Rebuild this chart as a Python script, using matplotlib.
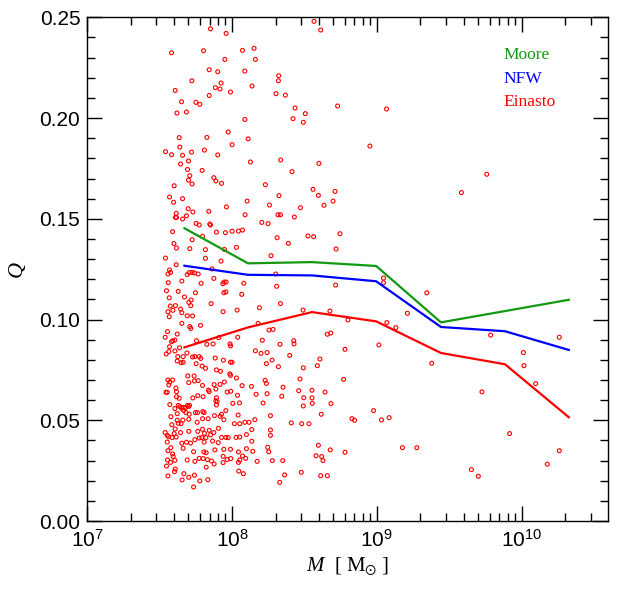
import numpy as np
import matplotlib.pyplot as plt
from matplotlib.ticker import MultipleLocator, FormatStrFormatter

plt.rcParams['font.family'] = ['Liberation Sans', 'DejaVu Sans']
plt.rcParams['mathtext.fontset'] = 'custom'
plt.rcParams['mathtext.rm'] = 'Liberation Sans'
plt.rcParams['mathtext.it'] = 'Liberation Serif:italic'
plt.rcParams['mathtext.fallback'] = 'stix'

# binned medians, log10 of halo mass
bin_logm = [7.671, 8.110, 8.552, 8.995, 9.443, 9.885, 10.326]
moore_q = [0.1453, 0.1279, 0.1285, 0.1266, 0.0986, 0.1042, 0.1098]
nfw_q = [0.1267, 0.1222, 0.1219, 0.1190, 0.0963, 0.0942, 0.0849]
einasto_q = [0.0862, 0.0961, 0.1037, 0.0991, 0.0834, 0.0778, 0.0515]

# individual haloes (log10 M, Q)
halo_logm = [
    7.851, 7.959, 8.566, 8.612, 7.582, 7.803, 8.072, 8.152, 7.950, 8.161,
    7.842, 7.901, 8.088, 7.722, 8.322, 8.320, 7.924, 7.885, 7.917, 7.989,
    8.138, 7.607, 8.304, 8.368, 7.842, 7.651, 7.750, 7.777, 8.435, 7.619,
    7.685, 8.506, 8.729, 8.088, 8.421, 8.492, 7.973, 7.635, 7.826, 8.111,
    8.000, 7.639, 7.540, 7.582, 7.658, 7.720, 7.809, 7.901, 8.952, 8.127,
    8.336, 7.699, 7.644, 8.600, 7.692, 7.793, 8.414, 7.708, 7.699, 7.874,
    7.888, 7.927, 7.724, 7.600, 8.230, 8.559, 8.596, 8.711, 8.324, 7.568,
    7.596, 7.658, 8.104, 8.258, 8.635, 8.697, 8.472, 7.614, 7.697, 7.729,
    7.839, 7.961, 7.609, 7.616, 7.658, 7.685, 8.090, 8.317, 8.334, 8.430,
    8.205, 8.249, 7.752, 7.773, 7.846, 7.851, 7.589, 7.892, 7.954, 8.000,
    8.044, 8.072, 8.524, 8.563, 8.745, 8.311, 7.796, 7.724, 7.598, 7.616,
    7.708, 7.816, 7.947, 8.030, 8.389, 8.718,
    7.540, 7.816, 7.924, 8.269, 7.614, 7.568, 7.557, 7.575, 7.862, 7.704,
    7.724, 7.740, 7.690, 7.766, 8.301, 7.874, 7.653, 7.559, 7.786, 7.945,
    7.959, 7.936, 8.081, 8.308, 8.715, 7.547, 7.628, 7.747, 7.943, 7.957,
    8.067, 7.566, 7.671, 7.717, 7.701, 7.855, 8.334, 8.189, 7.573, 7.609,
    7.715, 7.644, 7.591, 7.557, 7.653, 7.938, 8.035, 8.490, 8.676, 7.690,
    7.566, 7.727, 8.800, 7.653, 7.708, 7.715, 7.782, 8.180, 8.255, 8.283,
    7.554, 7.621, 8.681, 8.658, 7.538, 7.591, 7.605, 7.582, 7.568, 7.637,
    7.754, 7.908, 8.039, 7.986, 7.989, 7.826, 7.869, 8.209, 8.331, 8.426,
    8.428, 9.014, 7.545, 7.563, 7.605, 7.688, 7.625, 7.662, 7.727, 7.743,
    7.773, 7.784, 8.161, 8.200, 8.242, 8.398, 8.780, 7.621, 7.648, 7.662,
    7.752, 7.793, 7.883, 7.940, 7.989, 8.000, 8.276, 8.607, 8.237, 8.589,
    7.816, 7.892, 7.920, 8.320, 8.492, 7.738, 7.694, 7.984, 7.989, 8.030,
    7.557, 7.570, 7.589, 7.563, 7.701, 7.740, 7.766, 7.796, 7.876, 7.917,
    7.947, 8.069, 8.134, 8.228, 8.237, 8.469, 8.770, 7.543, 7.552, 7.612,
    7.616, 7.616, 7.635, 7.729, 7.763, 7.800, 7.837, 7.842, 7.888, 7.892,
    7.966, 7.991, 8.037, 8.166, 8.242, 8.352, 8.343, 8.460, 8.552, 8.642,
    8.495, 8.552, 7.570, 7.605, 7.628, 7.639, 7.651, 7.662, 7.678, 7.692,
    7.699, 7.706, 7.665, 7.681, 7.704, 7.747, 7.761, 7.798, 7.807, 7.621,
    7.888, 7.897, 7.892, 7.878, 7.927, 7.957, 8.005, 8.051, 8.214, 8.492,
    8.554, 8.683, 8.977, 7.577, 7.621, 7.660, 7.628, 7.584, 7.607, 7.648,
    7.701, 7.759, 7.796, 7.835, 7.917, 7.943, 8.042, 8.265, 8.409, 8.481,
    8.531, 8.616, 8.828, 8.846, 8.016, 8.053, 8.088, 8.117, 8.157, 7.538,
    7.552, 7.561, 7.586, 7.614, 7.600, 7.644, 7.701, 7.763, 7.796, 7.809,
    7.842, 7.851, 7.906, 7.874, 7.791, 7.773, 7.819, 7.957, 7.973, 8.028,
    8.053, 8.099, 8.136, 8.265, 8.265, 7.552, 7.557, 7.577, 7.589, 7.593,
    7.653, 7.662, 7.685, 7.713, 7.743, 7.807, 7.865, 7.904, 7.927, 7.734,
    7.805, 7.821, 7.881, 7.943, 7.989, 8.044, 8.099, 8.136, 8.143, 8.246,
    8.253, 8.580, 8.596, 8.619, 8.678, 8.780, 7.554, 7.547, 7.575, 7.605,
    7.607, 7.602, 7.667, 7.690, 7.743, 7.773, 7.800, 7.830, 7.858, 7.876,
    7.821, 7.938, 7.966, 7.991, 8.044, 8.053, 8.094, 8.072, 8.173, 8.278,
    8.350, 8.628, 7.938, 7.557, 7.655, 7.701, 7.740, 7.734, 7.777, 7.832,
    8.046, 8.078, 8.329, 8.363, 8.478, 8.612, 8.658,
    9.067, 9.759, 9.584, 9.046, 9.046, 9.345, 9.211, 9.069, 9.131, 9.786,
    10.012, 10.016, 10.097, 9.379, 10.260, 9.726, 9.032, 9.085, 9.917, 9.177,
    9.276, 10.260, 10.177, 9.653, 9.701,
]
halo_q = [
    0.2443, 0.2420, 0.2480, 0.2437, 0.2324, 0.2334, 0.2336, 0.2346, 0.2291, 0.2291,
    0.2240, 0.2230, 0.2233, 0.2185, 0.2210, 0.2185, 0.2174, 0.2151, 0.2144, 0.2129,
    0.2159, 0.2137, 0.2121, 0.2114, 0.2112, 0.2081, 0.2078, 0.2068, 0.2050, 0.2025,
    0.2030, 0.2022, 0.2060, 0.1993, 0.1997, 0.1979, 0.1931, 0.1903, 0.1904, 0.1897,
    0.1868, 0.1856, 0.1833, 0.1818, 0.1815, 0.1831, 0.1841, 0.1817, 0.1861, 0.1782,
    0.1792, 0.1787, 0.1772, 0.1775, 0.1745, 0.1740, 0.1734, 0.1714, 0.1692, 0.1704,
    0.1688, 0.1676, 0.1673, 0.1664, 0.1669, 0.1646, 0.1616, 0.1636, 0.1615, 0.1608,
    0.1582, 0.1600, 0.1588, 0.1568, 0.1567, 0.1588, 0.1555, 0.1527, 0.1550, 0.1534,
    0.1537, 0.1559, 0.1507, 0.1507, 0.1499, 0.1515, 0.1520, 0.1520, 0.1520, 0.1509,
    0.1482, 0.1476, 0.1477, 0.1469, 0.1474, 0.1469, 0.1436, 0.1434, 0.1431, 0.1438,
    0.1439, 0.1444, 0.1415, 0.1411, 0.1426, 0.1406, 0.1413, 0.1396, 0.1377, 0.1355,
    0.1352, 0.1347, 0.1348, 0.1358, 0.1378, 0.1350,
    0.1305, 0.1304, 0.1290, 0.1317, 0.1272, 0.1246, 0.1226, 0.1234, 0.1251, 0.1233,
    0.1234, 0.1231, 0.1223, 0.1226, 0.1226, 0.1204, 0.1191, 0.1183, 0.1180, 0.1186,
    0.1186, 0.1178, 0.1180, 0.1165, 0.1171, 0.1143, 0.1140, 0.1133, 0.1133, 0.1137,
    0.1125, 0.1108, 0.1112, 0.1097, 0.1085, 0.1079, 0.1079, 0.1059, 0.1067, 0.1069,
    0.1069, 0.1052, 0.1046, 0.1039, 0.1034, 0.1039, 0.1047, 0.1047, 0.1042, 0.1019,
    0.1014, 0.1018, 0.0998, 0.0981, 0.0965, 0.0956, 0.0971, 0.0981, 0.0948, 0.0951,
    0.0940, 0.0928, 0.0933, 0.0927, 0.0912, 0.0895, 0.0898, 0.0890, 0.0865, 0.0860,
    0.0895, 0.0910, 0.0912, 0.0879, 0.0869, 0.0877, 0.0879, 0.0897, 0.0877, 0.0895,
    0.0879, 0.0874, 0.0829, 0.0841, 0.0844, 0.0834, 0.0816, 0.0816, 0.0814, 0.0816,
    0.0816, 0.0807, 0.0845, 0.0832, 0.0836, 0.0822, 0.0852, 0.0794, 0.0786, 0.0788,
    0.0781, 0.0769, 0.0809, 0.0798, 0.0788, 0.0788, 0.0799, 0.0804, 0.0781, 0.0771,
    0.0758, 0.0750, 0.0743, 0.0766, 0.0760, 0.0720, 0.0720, 0.0730, 0.0723, 0.0710,
    0.0700, 0.0690, 0.0700, 0.0675, 0.0687, 0.0695, 0.0697, 0.0673, 0.0677, 0.0678,
    0.0690, 0.0672, 0.0668, 0.0698, 0.0683, 0.0705, 0.0703, 0.0639, 0.0639, 0.0660,
    0.0642, 0.0617, 0.0609, 0.0611, 0.0622, 0.0617, 0.0650, 0.0642, 0.0655, 0.0612,
    0.0640, 0.0644, 0.0624, 0.0629, 0.0632, 0.0664, 0.0619, 0.0647, 0.0649, 0.0640,
    0.0612, 0.0611, 0.0578, 0.0558, 0.0574, 0.0568, 0.0559, 0.0564, 0.0563, 0.0574,
    0.0568, 0.0574, 0.0549, 0.0539, 0.0530, 0.0538, 0.0538, 0.0543, 0.0538, 0.0533,
    0.0597, 0.0592, 0.0576, 0.0523, 0.0530, 0.0548, 0.0584, 0.0586, 0.0586, 0.0571,
    0.0584, 0.0583, 0.0548, 0.0518, 0.0500, 0.0501, 0.0485, 0.0478, 0.0457, 0.0483,
    0.0505, 0.0490, 0.0508, 0.0508, 0.0520, 0.0503, 0.0526, 0.0523, 0.0487, 0.0483,
    0.0483, 0.0530, 0.0508, 0.0500, 0.0483, 0.0483, 0.0490, 0.0490, 0.0503, 0.0439,
    0.0425, 0.0419, 0.0414, 0.0417, 0.0434, 0.0439, 0.0445, 0.0445, 0.0455, 0.0435,
    0.0450, 0.0427, 0.0460, 0.0439, 0.0414, 0.0412, 0.0414, 0.0415, 0.0414, 0.0415,
    0.0417, 0.0429, 0.0454, 0.0452, 0.0425, 0.0392, 0.0349, 0.0364, 0.0333, 0.0320,
    0.0386, 0.0361, 0.0391, 0.0387, 0.0404, 0.0392, 0.0397, 0.0389, 0.0415, 0.0344,
    0.0343, 0.0339, 0.0353, 0.0356, 0.0356, 0.0343, 0.0359, 0.0396, 0.0346, 0.0366,
    0.0344, 0.0324, 0.0376, 0.0320, 0.0353, 0.0341, 0.0303, 0.0273, 0.0291, 0.0301,
    0.0258, 0.0245, 0.0235, 0.0303, 0.0296, 0.0311, 0.0310, 0.0305, 0.0298, 0.0283,
    0.0267, 0.0321, 0.0305, 0.0310, 0.0291, 0.0303, 0.0311, 0.0323, 0.0296, 0.0300,
    0.0300, 0.0300, 0.0290, 0.0224, 0.0204, 0.0217, 0.0227, 0.0169, 0.0199, 0.0205,
    0.0248, 0.0235, 0.0192, 0.0229, 0.0242, 0.0225, 0.0225,
    0.2045, 0.1721, 0.1630, 0.1206, 0.1183, 0.1133, 0.1031, 0.0985, 0.0960, 0.0923,
    0.0836, 0.0771, 0.0682, 0.0783, 0.0912, 0.0641, 0.0502, 0.0513, 0.0434, 0.0364,
    0.0364, 0.0349, 0.0282, 0.0255, 0.0222,
]
assert len(halo_logm) == len(halo_q)

green = '#119911'
serif = ['Liberation Serif', 'DejaVu Serif']

fig = plt.figure(figsize=(6.29, 5.91), dpi=100)
ax = fig.add_axes([0.1388, 0.1184, 0.8278, 0.8523])

ax.scatter(10 ** np.array(halo_logm), halo_q, s=8, facecolors='none',
           edgecolors='red', linewidths=0.8, zorder=2)

m_bins = 10 ** np.array(bin_logm)
ax.plot(m_bins, moore_q, color=green, lw=1.6, zorder=3)
ax.plot(m_bins, nfw_q, color='blue', lw=1.6, zorder=3)
ax.plot(m_bins, einasto_q, color='red', lw=1.6, zorder=3)

ax.set_xscale('log')
ax.set_xlim(1e7, 3.95e10)
ax.set_ylim(0, 0.25)
ax.yaxis.set_major_locator(MultipleLocator(0.05))
ax.yaxis.set_minor_locator(MultipleLocator(0.01))
ax.yaxis.set_major_formatter(FormatStrFormatter('%.2f'))

ax.tick_params(which='both', direction='in', top=True, right=True,
               width=1, labelsize=15)
ax.tick_params(which='major', length=10.8)
ax.tick_params(which='minor', length=5.8)
ax.tick_params(axis='x', pad=6)
ax.tick_params(axis='y', pad=5)
for s in ax.spines.values():
    s.set_linewidth(1)

ax.set_xlabel(r'$M$  [ M$_{\odot}$ ]', fontsize=15, family=serif, labelpad=3)
ax.set_ylabel('Q', fontsize=16, family=serif, style='italic', labelpad=9)

# labels in the upper right
ax.text(0.80, 0.917, 'Moore', color=green, fontsize=12.5, family=serif,
        transform=ax.transAxes, va='baseline')
ax.text(0.80, 0.870, 'NFW', color='blue', fontsize=12.5, family=serif,
        transform=ax.transAxes, va='baseline')
ax.text(0.80, 0.824, 'Einasto', color='red', fontsize=12.5, family=serif,
        transform=ax.transAxes, va='baseline')

fig.savefig('out.png', dpi=100)
